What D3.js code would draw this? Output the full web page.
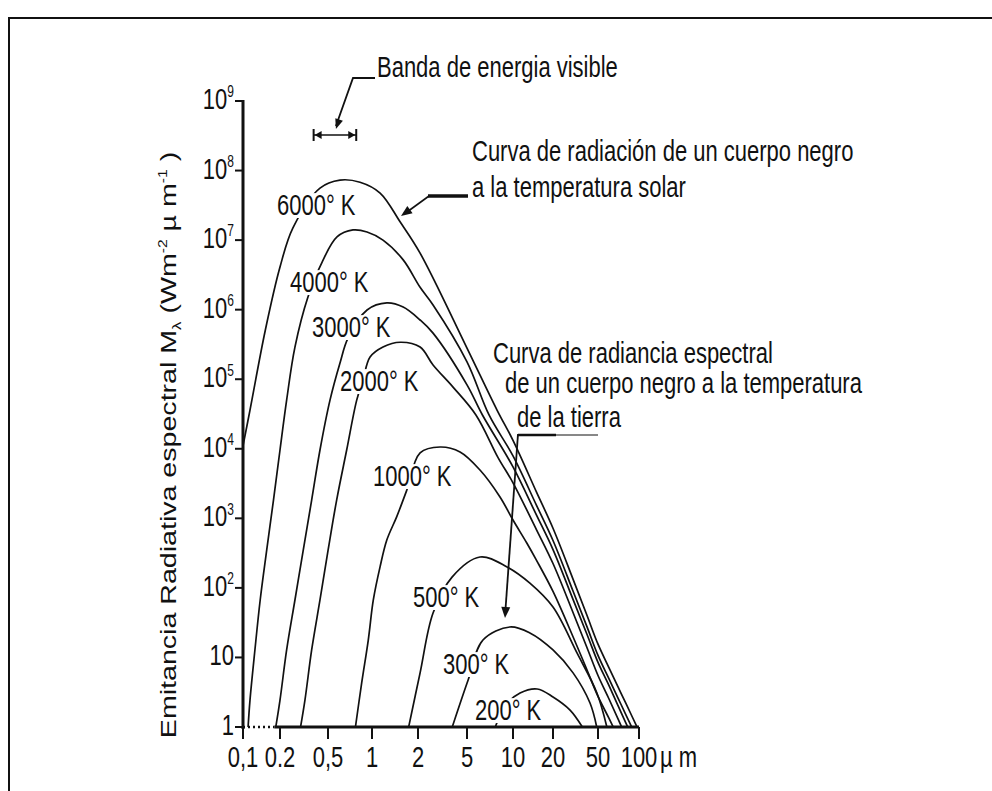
<!DOCTYPE html>
<html><head><meta charset="utf-8">
<script src="https://cdn.jsdelivr.net/npm/d3@7"></script>
<style>
body{margin:0;background:#fff}
text{font-family:"Liberation Sans",Arial,Helvetica,sans-serif;fill:#111}
</style>
</head><body>
<svg id="chart" width="992" height="791"></svg>
<script>
// ---------------- DATA ----------------
const xTickValues = [0.1, 0.2, 0.5, 1, 2, 5, 10, 20, 50, 100];
const xTickLabels = ["0,1", "0.2", "0,5", "1", "2", "5", "10", "20", "50", "100"];
const yTickValues = [1, 10, 1e2, 1e3, 1e4, 1e5, 1e6, 1e7, 1e8, 1e9];
const yTickExponents = [0, 1, 2, 3, 4, 5, 6, 7, 8, 9];
const curveLabels = ["6000° K", "4000° K", "3000° K", "2000° K", "1000° K", "500° K", "300° K", "200° K"];

const wl6000 = [0.1, 0.114, 0.152, 0.2, 0.256, 0.429, 0.604, 0.828, 1.13, 1.53, 2.08, 5, 7.86, 10, 15, 20, 30, 40, 50, 60, 70, 80, 100];
const m6000  = [1.1e4, 3.6e4, 5.1e5, 4.1e6, 1.5e7, 5.6e7, 7.3e7, 6.8e7, 4.75e7, 1.82e7, 6.5e6, 2.8e5, 3.6e4, 1.32e4, 2.4e3, 720, 135, 40, 15.5, 7.2, 3.8, 2.2, 0.87];
const wl4000 = [0.11, 0.114, 0.125, 0.138, 0.156, 0.177, 0.2, 0.227, 0.266, 0.341, 0.446, 0.576, 0.741, 0.925, 1.18, 1.6, 2.08, 2.65, 5, 6.97, 10, 15, 20, 30, 40, 50, 60, 70, 80, 100];
const m4000  = [1.0, 2.44, 12.8, 67, 351, 1830, 9600, 5.0e4, 2.9e5, 1.52e6, 4.8e6, 1.11e7, 1.40e7, 1.31e7, 1.0e7, 5.2e6, 2.1e6, 1.17e6, 1.78e5, 3.06e4, 7.9e3, 1.55e3, 480, 91, 27.5, 10.7, 5.0, 2.63, 1.51, 0.6];
const wl3000 = [0.183, 0.2, 0.227, 0.266, 0.312, 0.366, 0.429, 0.516, 0.604, 0.685, 0.925, 1.25, 1.6, 2.08, 2.65, 5, 6.31, 10, 15, 20, 30, 40, 50, 60, 70, 80, 90];
const m3000  = [0.9, 2.44, 12.8, 67, 351, 1830, 9600, 5.0e4, 1.71e5, 3.9e5, 9.9e5, 1.25e6, 1.09e6, 7.1e5, 4.6e5, 8.3e4, 3.06e4, 5.5e3, 1.12e3, 355, 69, 21.4, 8.5, 4.0, 2.04, 1.15, 0.69];
const wl2000 = [0.293, 0.322, 0.366, 0.429, 0.501, 0.573, 0.671, 0.786, 0.867, 0.97, 1.18, 1.53, 2.08, 2.65, 3.85, 5.72, 8, 10, 15, 20, 30, 40, 50, 60, 70, 80];
const m2000  = [0.9, 2.44, 12.8, 67, 351, 1830, 9600, 5.0e4, 9.7e4, 2.08e5, 2.9e5, 3.4e5, 2.9e5, 1.6e5, 7.7e4, 3.06e4, 7.4e3, 3.24e3, 690, 224, 44.7, 13.8, 5.5, 2.57, 1.32, 0.74];
const wl1000 = [0.765, 0.85, 0.943, 1.02, 1.13, 1.25, 1.45, 1.69, 2.08, 3.02, 4.39, 6.08, 8.22, 10, 12.7, 15, 20, 30, 40, 50, 60, 70];
const m1000  = [0.9, 4.3, 17.8, 67, 202, 488, 1050, 2550, 8700, 1.06e4, 9.0e3, 4.95e3, 2.03e3, 946, 442, 251, 89, 20, 6.6, 2.75, 1.35, 0.72];
const wl500  = [1.72, 2.08, 2.65, 3.78, 6.08, 9.14, 13.4, 20, 32.6, 48.9, 58.3];
const m500   = [0.9, 6.0, 43.5, 143, 278, 200, 117, 53, 11.6, 3.08, 0.97];
const wl300  = [3.78, 5.08, 6.36, 9.55, 13.4, 20, 30.1, 42.5, 48.9];
const m300   = [0.98, 4.7, 17.8, 27.4, 22.5, 12.8, 6.0, 2.21, 0.97];
const wl200  = [7.63, 9, 11.3, 15.2, 20, 28.3, 36.8];
const m200   = [0.98, 2.1, 3.08, 3.52, 2.7, 1.75, 0.97];
const visibleBand = [0.38, 0.78]; // µm

// ---------------- LAYOUT ----------------
const W = 992, H = 791;
const FS = 22, SY = 1.3;
const xTickPositions = [243, 280, 328, 372, 418, 467, 513, 553, 598, 639];
const plot = {left: 243, right: 639, top: 101, bottom: 727};
const labelPos = [[277,215],[290,292],[312,337],[340,391],[373,486],[413,607],[443,674],[475,720]];

const svg = d3.select("#chart");
svg.append("rect").attr("width", W).attr("height", H).attr("fill", "#fff");
// frame
svg.append("rect").attr("x", 9).attr("y", 18).attr("width", 1100).attr("height", 900)
  .attr("fill", "none").attr("stroke", "#111").attr("stroke-width", 2);

const x = d3.scaleLog().domain(xTickValues).range(xTickPositions);
const y = d3.scaleLog().domain([1, 1e9]).range([plot.bottom, plot.top]);

function txt(parent, str, px, py, o = {}) {
  const g = parent.append("g").attr("transform", `translate(${px},${py}) scale(1,${SY})`);
  const t = g.append("text").attr("font-size", o.size || FS)
    .attr("text-anchor", o.anchor || "start").text(str);
  if (o.bg) {
    const b = t.node().getBBox();
    g.insert("rect", "text").attr("x", b.x - 1).attr("y", b.y + 3)
      .attr("width", b.width + 2).attr("height", b.height - 5).attr("fill", "#fff");
  }
  return t;
}
function arrowHead(parent, x1, y1, x2, y2, len = 10, wid = 4) {
  const a = Math.atan2(y2 - y1, x2 - x1);
  const bx = x2 - len * Math.cos(a), by = y2 - len * Math.sin(a);
  const px = -Math.sin(a) * wid, py = Math.cos(a) * wid;
  parent.append("path").attr("d", `M${x2},${y2}L${bx + px},${by + py}L${bx - px},${by - py}Z`).attr("fill", "#111");
}

// ---------------- CURVES ----------------
svg.append("clipPath").attr("id", "clip").append("rect")
  .attr("x", plot.left).attr("y", plot.top - 10).attr("width", plot.right - plot.left + 1).attr("height", plot.bottom - plot.top + 10);

const series = [[wl6000, m6000], [wl4000, m4000], [wl3000, m3000], [wl2000, m2000],
                [wl1000, m1000], [wl500, m500], [wl300, m300], [wl200, m200]];
const line = d3.line().x(d => x(d[0])).y(d => y(d[1])).curve(d3.curveCatmullRom.alpha(0.5));
const cg = svg.append("g").attr("clip-path", "url(#clip)");
series.forEach(([wl, m]) => {
  cg.append("path").datum(wl.map((w, i) => [w, m[i]])).attr("d", line)
    .attr("fill", "none").attr("stroke", "#111").attr("stroke-width", 1.7);
});

// curve labels (mask the curve beneath)
curveLabels.forEach((s, i) => txt(svg, s, labelPos[i][0], labelPos[i][1], {bg: true}));

// ---------------- AXES ----------------
const ax = svg.append("g");
// y axis
ax.append("line").attr("x1", plot.left).attr("x2", plot.left).attr("y1", plot.top - 1).attr("y2", plot.bottom + 2)
  .attr("stroke", "#111").attr("stroke-width", 3);
yTickValues.forEach((v, i) => {
  ax.append("line").attr("x1", plot.left - 8).attr("x2", plot.left).attr("y1", y(v)).attr("y2", y(v))
    .attr("stroke", "#111").attr("stroke-width", 2);
  const g = ax.append("g").attr("transform", `translate(${plot.left - 9},${y(v) + 8}) scale(1,${SY})`);
  const t = g.append("text").attr("font-size", FS).attr("text-anchor", "end");
  const e = yTickExponents[i];
  if (e === 0) t.text("1");
  else if (e === 1) t.text("10");
  else { t.append("tspan").text("10"); t.append("tspan").attr("font-size", 12).attr("dy", -9).text(e); }
});
// x axis (dotted at the far left like the original)
ax.append("line").attr("x1", plot.left).attr("x2", x(0.18)).attr("y1", plot.bottom).attr("y2", plot.bottom)
  .attr("stroke", "#111").attr("stroke-width", 2.5).attr("stroke-dasharray", "2,3");
ax.append("line").attr("x1", x(0.18)).attr("x2", plot.right).attr("y1", plot.bottom).attr("y2", plot.bottom)
  .attr("stroke", "#111").attr("stroke-width", 3);
xTickValues.forEach((v, i) => {
  ax.append("line").attr("x1", x(v)).attr("x2", x(v)).attr("y1", plot.bottom).attr("y2", plot.bottom + 12)
    .attr("stroke", "#111").attr("stroke-width", 2);
  txt(ax, xTickLabels[i], x(v), 767, {anchor: "middle"});
});
txt(ax, "µ m", 660, 767);

// y title
{
  const g = svg.append("g").attr("transform", `translate(176,445) scale(1,${SY}) rotate(-90)`);
  const t = g.append("text").attr("font-size", FS).attr("text-anchor", "middle");
  t.append("tspan").text("Emitancia Radiativa espectral M");
  t.append("tspan").attr("font-size", 13).attr("dy", 5).text("λ");
  t.append("tspan").attr("dy", -5).text(" (Wm");
  t.append("tspan").attr("font-size", 12).attr("dy", -9).text("-2");
  t.append("tspan").attr("dy", 9).text(" µ m");
  t.append("tspan").attr("font-size", 12).attr("dy", -9).text("-1");
  t.append("tspan").attr("dy", 9).text(" )");
}

// ---------------- ANNOTATIONS ----------------
const an = svg.append("g");
// visible band bracket
{
  const x1 = x(visibleBand[0]), x2 = x(visibleBand[1]), yb = 135;
  an.append("line").attr("x1", x1).attr("x2", x2).attr("y1", yb).attr("y2", yb).attr("stroke", "#111").attr("stroke-width", 1.5);
  [x1, x2].forEach(xx => an.append("line").attr("x1", xx).attr("x2", xx).attr("y1", yb - 6).attr("y2", yb + 6).attr("stroke", "#111").attr("stroke-width", 2));
  arrowHead(an, x1 + 12, yb, x1 + 1, yb, 7, 4);
  arrowHead(an, x2 - 12, yb, x2 - 1, yb, 7, 4);
  // leader from label
  an.append("path").attr("d", `M375,78H353L${(x1 + x2) / 2 + 1},${yb - 9}`).attr("fill", "none").attr("stroke", "#111").attr("stroke-width", 1.8);
  arrowHead(an, 353, 78, (x1 + x2) / 2 + 1, yb - 6, 10, 4);
  txt(an, "Banda de energia visible", 377, 77);
}
// solar annotation
txt(an, "Curva de radiación de un cuerpo negro", 472, 161);
txt(an, "a la temperatura solar", 472, 197);
an.append("line").attr("x1", 428).attr("x2", 468).attr("y1", 196).attr("y2", 196).attr("stroke", "#111").attr("stroke-width", 3.5);
an.append("line").attr("x1", 429).attr("y1", 196).attr("x2", 407).attr("y2", 212).attr("stroke", "#111").attr("stroke-width", 1.6);
arrowHead(an, 429, 196, 401, 216, 11, 4.5);
// earth annotation
txt(an, "Curva de radiancia espectral", 493, 363);
txt(an, "de un cuerpo negro a la temperatura", 505, 393);
txt(an, "de la tierra", 517, 427);
an.append("line").attr("x1", 518).attr("x2", 556).attr("y1", 435).attr("y2", 435).attr("stroke", "#111").attr("stroke-width", 2.5);
an.append("line").attr("x1", 556).attr("x2", 598).attr("y1", 435).attr("y2", 435).attr("stroke", "#111").attr("stroke-width", 1);
an.append("line").attr("x1", 518).attr("y1", 434).attr("x2", 505.6).attr("y2", 608).attr("stroke", "#111").attr("stroke-width", 1.8);
arrowHead(an, 518, 434, 505, 618, 11, 4.5);
</script>
</body></html>
